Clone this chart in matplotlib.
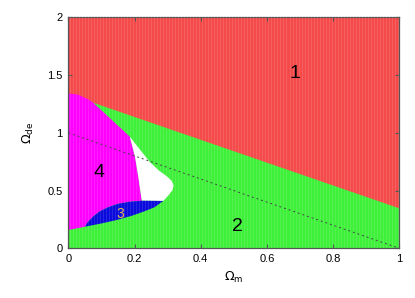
import matplotlib
matplotlib.use("Agg")
import matplotlib.pyplot as plt
import numpy as np

plt.rcParams['font.family'] = ['Liberation Sans', 'DejaVu Sans']

# Region boundaries (Omega_m, Omega_de)
red_x = [0.0, 1.0, 1.0, 0.0]
red_y = [1.335, 0.346, 2.0, 2.0]

magenta_x = [0.0, 0.0, 0.03, 0.06, 0.0755, 0.186, 0.2015, 0.2115, 0.222,
             0.185, 0.15, 0.12, 0.095, 0.075, 0.06, 0.05]
magenta_y = [0.158, 1.342, 1.33, 1.29, 1.26, 0.966, 0.793, 0.62, 0.412,
             0.403, 0.385, 0.355, 0.32, 0.275, 0.23, 0.187]

white_x = [0.186, 0.215, 0.247, 0.275, 0.297, 0.312, 0.318, 0.315, 0.303,
           0.287, 0.222, 0.2115, 0.2015]
white_y = [0.966, 0.86, 0.745, 0.67, 0.625, 0.585, 0.545, 0.505, 0.46,
           0.41, 0.412, 0.62, 0.793]

blue_x = [0.222, 0.287, 0.26, 0.227, 0.19, 0.146, 0.10, 0.05,
          0.06, 0.075, 0.095, 0.12, 0.15, 0.185]
blue_y = [0.412, 0.41, 0.355, 0.317, 0.28, 0.245, 0.215, 0.187,
          0.23, 0.275, 0.32, 0.355, 0.385, 0.403]

flat_x = [0.0, 1.0]
flat_y = [1.0, 0.0]

labels = ["1", "2", "3", "4"]
label_x = [0.685, 0.512, 0.158, 0.092]
label_y = [1.515, 0.19, 0.30, 0.66]
label_col = ["black", "black", "#e8b84a", "black"]
label_size = [14, 14, 10, 14]

xticks = [0, 0.2, 0.4, 0.6, 0.8, 1]
xtick_labels = ["0", "0.2", "0.4", "0.6", "0.8", "1"]
yticks = [0, 0.5, 1, 1.5, 2]
ytick_labels = ["0", "0.5", "1", "1.5", "2"]

fig = plt.figure(figsize=(4.15, 2.98), dpi=100)
ax = fig.add_axes([68.3/415, 1 - 248.3/298, 331/415, 231/298])
ax.set_xlim(0, 1)
ax.set_ylim(0, 2)

ax.add_patch(plt.Rectangle((0, 0), 1, 2, facecolor="#3ef03a", edgecolor="none", zorder=0))
ax.fill(red_x, red_y, color="#f54a4a", lw=0, zorder=1)
ax.fill(magenta_x, magenta_y, color="#ff00ff", lw=0, zorder=2)
ax.fill(white_x, white_y, color="white", lw=0, zorder=2)
ax.fill(blue_x, blue_y, color="#0a0adc", lw=0, zorder=2)

# vertical stripe texture
for xs in np.arange(0.004, 1.0, 0.0091):
    ax.axvline(xs, color="white", alpha=0.14, lw=0.6, zorder=3)

ax.plot(flat_x, flat_y, color="#444444", lw=0.7, ls=(0, (2, 3)), zorder=4)

for t, x, y, c, s in zip(labels, label_x, label_y, label_col, label_size):
    ax.text(x, y, t, color=c, fontsize=s, ha="center", va="center", zorder=5)

ax.set_xticks(xticks)
ax.set_xticklabels(xtick_labels)
ax.set_yticks(yticks)
ax.set_yticklabels(ytick_labels)
ax.tick_params(direction="in", top=True, right=True, labelsize=8, length=3,
               color="#555555", pad=4)
for sp in ax.spines.values():
    sp.set_color("#555555")
    sp.set_linewidth(0.9)

ax.set_xlabel(r"$\Omega_{\rm m}$", fontsize=9, labelpad=4)
ax.set_ylabel(r"$\Omega_{\rm de}$", fontsize=9, labelpad=8)

fig.savefig("out.png", dpi=100)
